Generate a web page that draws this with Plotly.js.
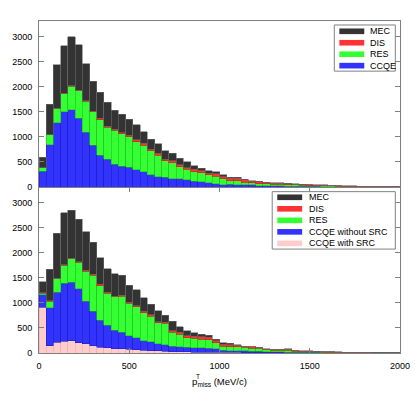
<!DOCTYPE html>
<html>
<head>
<meta charset="utf-8">
<script src="https://cdn.plot.ly/plotly-3.0.1.min.js"></script>
<style>
  html, body { margin: 0; padding: 0; background: #fff; }
  #chart { width: 415px; height: 415px; }
</style>
</head>
<body>
<div id="chart"></div>
<script>
// 50 bins of 40 MeV/c from 0 to 2000
const binStart = 20;
const binWidth = 40;

// upper panel: stacked counts per bin
const ccqeTop = [311,847,1278,1503,1542,1370,1092,834,629,549,457,417,393,340,300,240,207,193,167,160,
  140,113,100,80,60,40,50,45,47,40,30,27,25,22,20,18,15,13,12,10,10,8,6,5,4,3,3,2,2,2];
const resTop = [73,192,291,357,470,550,616,662,715,643,675,649,607,567,533,480,426,327,313,247,
  213,194,180,160,153,127,75,75,46,40,37,33,30,28,27,22,20,17,15,12,15,7,6,5,5,5,4,4,4,3];
const disTop = [2,6,6,6,10,12,14,19,26,20,20,20,30,33,40,33,40,33,40,33,
  34,46,47,33,47,40,50,55,47,35,33,25,23,20,20,15,13,12,9,10,8,7,8,8,7,6,6,6,6,6];
const mecTop = [212,603,861,954,978,901,734,597,517,476,377,369,320,304,227,199,187,167,153,133,
  113,67,46,54,40,33,20,20,13,12,13,8,9,10,3,5,5,5,4,8,5,5,5,4,4,4,4,3,4,3];

// lower panel: CCQE split into with / without short range correlations
const srcBot = [909,146,212,239,246,206,186,146,113,100,86,86,73,66,53,46,40,33,27,27,
  22,20,20,18,16,13,13,12,10,10,9,7,7,6,6,5,5,4,4,3,3,3,2,2,2,2,1,1,1,1];
const noSrcBot = [249,757,1003,1155,1168,1075,849,684,537,457,365,325,272,239,193,180,146,133,112,99,
  90,85,80,77,64,37,35,34,32,28,24,20,18,16,14,11,9,9,7,7,6,5,4,4,3,3,3,2,2,2];
const resBot = [37,132,272,358,464,531,598,723,690,631,671,724,644,617,557,511,418,425,279,252,
  193,187,179,170,126,89,78,79,68,60,57,35,33,32,30,22,15,14,11,10,9,6,4,4,4,3,3,3,3,3];
const disBot = [5,5,6,6,8,10,13,20,26,20,13,13,20,20,27,26,20,26,27,33,
  35,38,46,47,40,40,40,34,25,24,25,16,13,16,28,12,9,11,8,8,7,6,4,4,4,4,3,3,3,3];
const mecBot = [220,626,890,1036,961,846,776,637,532,471,445,398,345,319,272,206,219,133,192,109,
  105,75,53,46,33,27,26,6,4,4,4,2,2,3,2,3,2,2,3,2,3,2,2,2,2,2,2,2,2,2];

const yTicks = [0, 500, 1000, 1500, 2000, 2500, 3000];
const xTicks = [0, 500, 1000, 1500, 2000];

const col = {
  MEC: ["#333333", "#6a6a6a"],
  DIS: ["#ff3333", "#cc2020"],
  RES: ["#33ff33", "#22c022"],
  CCQE: ["#3333ff", "#2020c0"],
  SRC: ["#ffcccc", "#e8b0b0"]
};

function bar(y, key, xa, ya) {
  return {
    type: "bar", y: y, x0: binStart, dx: binWidth, width: binWidth,
    xaxis: xa, yaxis: ya, hoverinfo: "skip",
    marker: {color: col[key][0], line: {color: col[key][1], width: 0.6}}
  };
}

const data = [
  bar(ccqeTop, "CCQE", "x2", "y2"),
  bar(resTop, "RES", "x2", "y2"),
  bar(disTop, "DIS", "x2", "y2"),
  bar(mecTop, "MEC", "x2", "y2"),
  bar(srcBot, "SRC", "x", "y"),
  bar(noSrcBot, "CCQE", "x", "y"),
  bar(resBot, "RES", "x", "y"),
  bar(disBot, "DIS", "x", "y"),
  bar(mecBot, "MEC", "x", "y")
];

// hand drawn legend boxes (wide flat swatches like the original)
const legTop = [["MEC", "MEC"], ["DIS", "DIS"], ["RES", "RES"], ["CCQE", "CCQE"]];
const legBot = [["MEC", "MEC"], ["DIS", "DIS"], ["RES", "RES"],
  ["CCQE without SRC", "CCQE"], ["CCQE with SRC", "SRC"]];

const shapes = [];
const annotations = [];

function legend(items, box, sx0, sx1, tx, y0, dy) {
  shapes.push({type: "rect", xref: "paper", yref: "paper", x0: box[0], x1: box[1], y0: box[2], y1: box[3],
    fillcolor: "#fff", line: {color: "#808080", width: 1}, layer: "above"});
  items.forEach((it, i) => {
    const y = y0 - i * dy;
    shapes.push({type: "rect", xref: "paper", yref: "paper", x0: sx0, x1: sx1, y0: y - 0.0085, y1: y + 0.0085,
      fillcolor: col[it[1]][0], line: {width: 0}, layer: "above"});
    annotations.push({xref: "paper", yref: "paper", x: tx, y: y, text: it[0], showarrow: false,
      xanchor: "left", yanchor: "middle", font: {size: 9}});
  });
}
legend(legTop, [0.818, 0.987, 0.849, 0.988], 0.832, 0.901, 0.912, 0.969, 0.0345);
legend(legBot, [0.646, 0.987, 0.313, 0.486], 0.660, 0.729, 0.743, 0.469, 0.0347);

annotations.push({xref: "paper", yref: "paper", x: 0.428, y: -0.072, text: "T", showarrow: false,
  xanchor: "left", yanchor: "middle", font: {size: 6.5}});

const axisBase = {
  showline: true, linecolor: "#808080", linewidth: 1, showgrid: false, zeroline: false,
  ticks: "inside", ticklen: 5, tickcolor: "#808080", mirror: "ticks"
};

const layout = {
  width: 415, height: 415,
  margin: {l: 39, r: 15, t: 21, b: 62},
  barmode: "stack", bargap: 0,
  showlegend: false,
  paper_bgcolor: "#fff", plot_bgcolor: "#fff",
  font: {family: "Liberation Sans, Arial, sans-serif", size: 9, color: "#000"},
  xaxis: Object.assign({}, axisBase, {
    domain: [0, 1], range: [0, 2000], tickvals: xTicks, anchor: "y",
    ticklabelstandoff: 4,
    title: {text: "p<sub>miss</sub> (MeV/c)", standoff: 8, font: {size: 9.5}}
  }),
  yaxis: Object.assign({}, axisBase, {
    domain: [0, 0.5], range: [0, 3310], tickvals: yTicks, anchor: "x", ticklabelstandoff: 4
  }),
  xaxis2: Object.assign({}, axisBase, {
    domain: [0, 1], range: [0, 2000], tickvals: xTicks, anchor: "y2",
    ticks: "", mirror: true, showticklabels: false
  }),
  yaxis2: Object.assign({}, axisBase, {
    domain: [0.5, 1], range: [0, 3310], tickvals: yTicks, anchor: "x2", ticklabelstandoff: 4
  }),
  shapes: shapes,
  annotations: annotations
};

Plotly.newPlot("chart", data, layout, {displayModeBar: false, staticPlot: true});
</script>
</body>
</html>
